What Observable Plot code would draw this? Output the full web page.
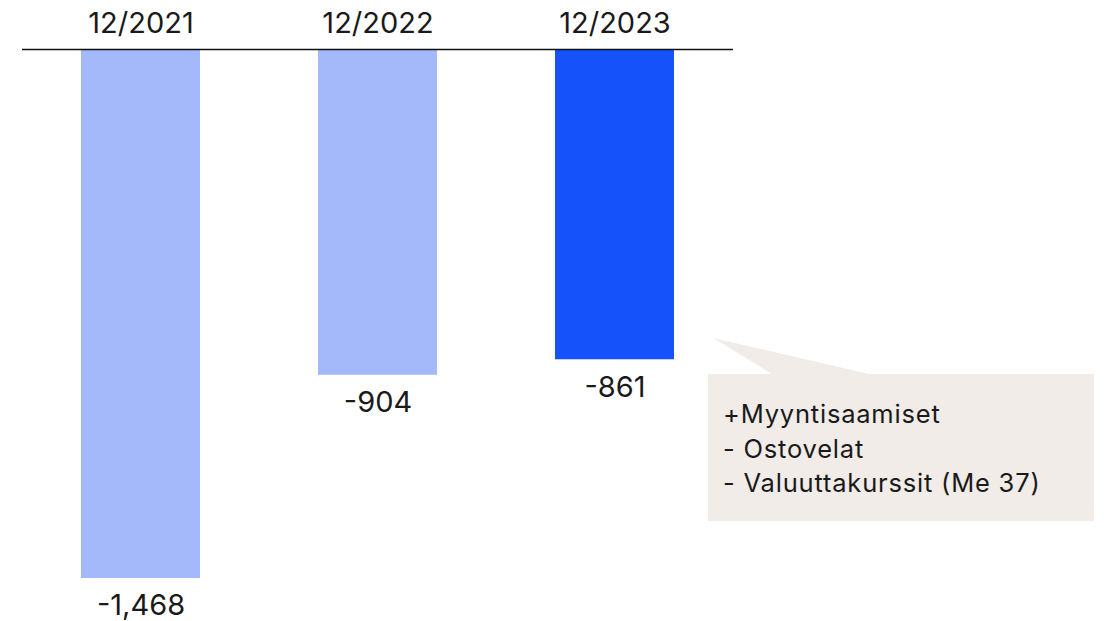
<!DOCTYPE html>
<html>
<head>
<meta charset="utf-8">
<script src="https://cdn.jsdelivr.net/npm/d3@7"></script>
<script src="https://cdn.jsdelivr.net/npm/@observablehq/plot@0.6"></script>
<style>
  html, body { margin: 0; padding: 0; background: #fff; }
  #chart { position: relative; width: 1104px; height: 621px; }
  svg { font-family: Inter, "Noto Sans", sans-serif; }
</style>
</head>
<body>
<div id="chart"></div>
<script>
const periods = ["12/2021", "12/2022", "12/2023"];
const values = [-1468, -904, -861];
const barColors = ["#a3b9f9", "#a3b9f9", "#1652f9"];
const calloutLines = ["+Myyntisaamiset", "- Ostovelat", "- Valuuttakurssit (Me 37)"];

const data = periods.map((p, i) => ({period: p, value: values[i], color: barColors[i]}));
const fmt = d3.formatLocale({decimal: ".", thousands: ",", grouping: [3], currency: ["", ""], minus: "-"}).format(",");

const W = 1104, H = 621;
const chart = Plot.plot({
  width: W,
  height: H,
  marginTop: 49,
  marginBottom: 43,
  marginLeft: 22,
  marginRight: 371,
  style: {fontFamily: "Inter, 'Noto Sans', sans-serif", background: "#fff", overflow: "visible"},
  x: {domain: periods, paddingInner: 0.5, paddingOuter: 0.25, axis: null},
  y: {domain: [d3.min(values), 0], axis: null},
  marks: [
    Plot.barY(data, {x: "period", y: "value", fill: "color"}),
    Plot.ruleY([0], {stroke: "#111", strokeWidth: 1.6}),
    Plot.text(data, {x: "period", y: 0, text: "period", dy: -26, fontSize: 29, fill: "#1a1a1a"}),
    Plot.text(data, {x: "period", y: "value", text: d => fmt(d.value), dy: 27.5, fontSize: 29, fill: "#1a1a1a"})
  ]
});
document.getElementById("chart").appendChild(chart);

const svg = d3.select(chart);

// callout
const g = svg.append("g").attr("text-anchor", "start");
const bx = 708, by = 374, bw = 386, bh = 147;
g.append("rect").attr("x", bx).attr("y", by).attr("width", bw).attr("height", bh).attr("fill", "#f1ece8");
g.append("polygon").attr("points", `713,338 772,${by} 869,${by}`).attr("fill", "#f1ece8");
g.selectAll("text.c").data(calloutLines).join("text")
  .attr("class", "c")
  .attr("x", 723)
  .attr("y", (d, i) => 423 + i * 34.5)
  .attr("font-size", 25.5)
  .attr("letter-spacing", 0.8)
  .attr("fill", "#1a1a1a")
  .attr("font-family", "Inter, 'Noto Sans', sans-serif")
  .text(d => d);
</script>
</body>
</html>
